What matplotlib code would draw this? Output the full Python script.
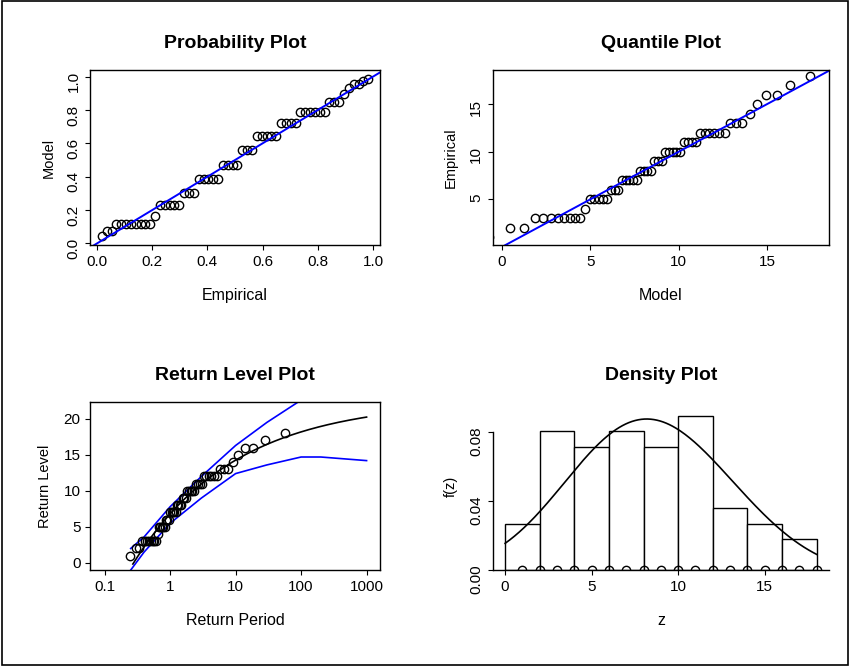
import numpy as np
import matplotlib
matplotlib.use("Agg")
import matplotlib.pyplot as plt

values = [1, 2, 3, 4, 5, 6, 7, 8, 9, 10, 11, 12, 13, 14, 15, 16, 17, 18]
counts = [1, 2, 8, 1, 5, 3, 5, 4, 3, 5, 4, 6, 3, 1, 1, 2, 1, 1]
gev_loc, gev_scale, gev_shape = 6.8, 4.4, -0.28
ci_period = [0.25, 0.4, 1, 3, 10, 30, 100, 200, 1000]
ci_upper = [2.0, 3.6, 7.8, 12.0, 16.3, 19.5, 22.6, 25.0, 30.0]
ci_lower = [-1.0, 1.5, 5.5, 9.0, 12.4, 13.6, 14.7, 14.7, 14.2]
hist_breaks = [0, 2, 4, 6, 8, 10, 12, 14, 16, 18]

data = np.sort(np.repeat(values, counts)).astype(float)
n = len(data)
pp = np.arange(1, n + 1) / (n + 1)

def gev_cdf(z):
    t = 1 + gev_shape * (z - gev_loc) / gev_scale
    t = np.clip(t, 1e-12, None)
    return np.exp(-t ** (-1 / gev_shape))

def gev_q(p):
    y = -np.log(p)
    return gev_loc - gev_scale / gev_shape * (1 - y ** (-gev_shape))

def gev_pdf(z):
    t = 1 + gev_shape * (z - gev_loc) / gev_scale
    t = np.clip(t, 1e-12, None)
    return (1 / gev_scale) * t ** (-1 / gev_shape - 1) * np.exp(-t ** (-1 / gev_shape))

plt.rcParams['font.family'] = ['Liberation Sans', 'DejaVu Sans']
fig = plt.figure(figsize=(8.5, 6.66), dpi=100)
fig.patches.append(plt.Rectangle((0.002, 0.002), 0.996, 0.996, transform=fig.transFigure,
                                 fill=False, lw=1.2, ec='black'))
mk = dict(marker='o', mfc='none', mec='black', ms=6, ls='none', mew=1.0)

def style(ax, title, xl, yl):
    ax.set_title(title, fontsize=14, fontweight='bold', pad=16)
    ax.set_xlabel(xl, fontsize=11.5, labelpad=14)
    ax.set_ylabel(yl, fontsize=10.5, labelpad=8)
    ax.tick_params(labelsize=11)
    for s in ax.spines.values():
        s.set_linewidth(1.0)

# Probability plot
ax1 = fig.add_axes([0.106, 0.632, 0.341, 0.263])
ax1.plot(pp, gev_cdf(data), **mk)
ax1.plot([-0.1, 1.1], [-0.1, 1.1], color='blue', lw=1.4)
ax1.set_xlim(-0.025, 1.025); ax1.set_ylim(-0.01, 1.04)
ax1.set_xticks(np.arange(0, 1.01, 0.2)); ax1.set_yticks(np.arange(0, 1.01, 0.2))
ax1.tick_params(axis='y', labelrotation=90)
style(ax1, 'Probability Plot', 'Empirical', 'Model')

# Quantile plot
ax2 = fig.add_axes([0.58, 0.632, 0.395, 0.263])
ax2.plot(gev_q(pp), data, **mk)
ax2.plot([-2, 20], [-2, 20], color='blue', lw=1.4)
ax2.set_xlim(-0.5, 18.5); ax2.set_ylim(0.2, 18.6)
ax2.set_xticks([0, 5, 10, 15]); ax2.set_yticks([5, 10, 15])
ax2.tick_params(axis='y', labelrotation=90)
style(ax2, 'Quantile Plot', 'Model', 'Empirical')

# Return level plot
ax3 = fig.add_axes([0.106, 0.144, 0.341, 0.252])
per = np.logspace(np.log10(0.27), 3, 200)
ax3.plot(per, gev_q(np.exp(-1 / per)), color='black', lw=1.2)
ax3.plot(ci_period, ci_upper, color='blue', lw=1.2)
ax3.plot(ci_period, ci_lower, color='blue', lw=1.2)
ax3.plot(-1 / np.log(pp), data, **mk)
ax3.set_xscale('log')
ax3.set_xlim(0.06, 1600); ax3.set_ylim(-1, 22.3)
ax3.set_xticks([0.1, 1, 10, 100, 1000]); ax3.set_xticklabels(['0.1', '1', '10', '100', '1000'])
ax3.minorticks_off()
ax3.set_yticks([0, 5, 10, 15, 20])
style(ax3, 'Return Level Plot', 'Return Period', 'Return Level')

# Density plot
ax4 = fig.add_axes([0.58, 0.144, 0.395, 0.252])
ax4.hist(data - 1e-6, bins=hist_breaks, density=True, fc='white', ec='black', lw=1.0)
zz = np.linspace(0, 18, 200)
ax4.plot(zz, gev_pdf(zz), color='black', lw=1.2)
ax4.plot(values, np.zeros(len(values)), **mk)
ax4.set_xlim(-0.7, 18.7); ax4.set_ylim(0, 0.097)
ax4.set_xticks([0, 5, 10, 15]); ax4.set_yticks([0, 0.04, 0.08])
ax4.set_yticklabels(['0.00', '0.04', '0.08'])
ax4.tick_params(axis='y', labelrotation=90)
ax4.spines['top'].set_visible(False); ax4.spines['right'].set_visible(False)
ax4.spines['left'].set_bounds(0, 0.08)
style(ax4, 'Density Plot', 'z', 'f(z)')

fig.savefig('out.png', dpi=100)
